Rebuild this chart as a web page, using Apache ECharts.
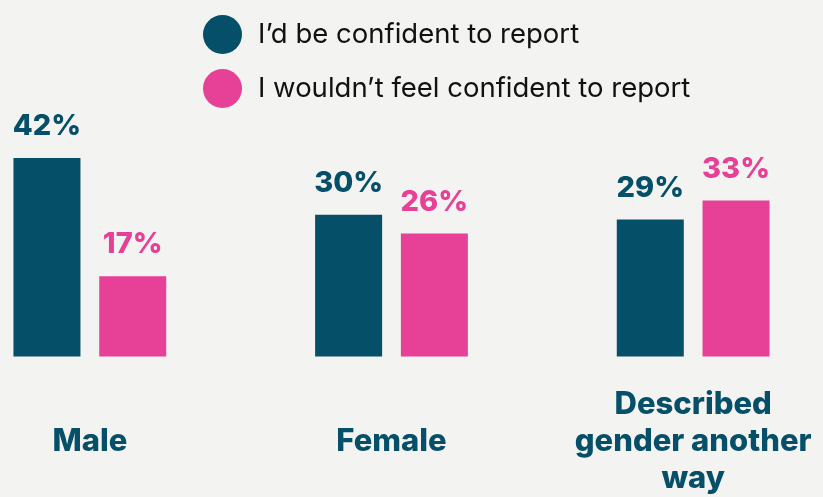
<!DOCTYPE html>
<html>
<head>
<meta charset="utf-8">
<script src="https://cdn.jsdelivr.net/npm/echarts@6/dist/echarts.min.js"></script>
<style>
  html, body { margin: 0; padding: 0; background: #f3f3f1; overflow: hidden; width: 823px; height: 497px; }
  /* The plot is wider than the window so the three groups sit at a wider pitch */
  #chart { width: 905px; height: 497px; margin-left: -61px; }
</style>
</head>
<body>
<div id="chart"></div>
<script>
// Confidence to report, by gender
const categories = ['Male', 'Female', 'Described\ngender another\nway'];
const seriesNames = ["I\u2019d be confident to report", "I wouldn\u2019t feel confident to report"];
const confidentValues = [42, 30, 29];
const notConfidentValues = [17, 26, 33];

const TEAL = '#064f69';
const PINK = '#e64197';
const FONT = 'Inter, "Open Sans", sans-serif';

const chart = echarts.init(document.getElementById('chart'));

function barSeries(name, data, color) {
  return {
    name: name,
    type: 'bar',
    data: data,
    barWidth: 67,
    barGap: '28%',
    itemStyle: { color: color },
    label: {
      show: true,
      position: 'top',
      distance: 17,
      formatter: '{c}%',
      color: color,
      fontFamily: FONT,
      fontWeight: 800,
      fontSize: 29
    }
  };
}

chart.setOption({
  backgroundColor: '#f3f3f1',
  animation: false,
  legend: {
    orient: 'vertical',
    left: 259,
    top: 10,
    icon: 'circle',
    itemWidth: 39,
    itemHeight: 42,
    itemGap: 15,
    textStyle: {
      fontFamily: FONT,
      fontSize: 27.5,
      color: '#111111',
      padding: [0, 0, 0, 11]
    },
    data: seriesNames
  },
  grid: {
    left: 0,
    right: 0,
    top: 158,
    bottom: 139,
    containLabel: false
  },
  xAxis: {
    type: 'category',
    data: categories,
    axisLine: { show: false },
    axisTick: { show: false },
    axisLabel: {
      margin: 85,
      verticalAlign: 'middle',
      color: TEAL,
      fontFamily: FONT,
      fontWeight: 800,
      fontSize: 31,
      lineHeight: 37,
      interval: 0
    }
  },
  yAxis: {
    type: 'value',
    min: 0,
    max: 42,
    show: false,
    splitLine: { show: false }
  },
  series: [
    barSeries(seriesNames[0], confidentValues, TEAL),
    barSeries(seriesNames[1], notConfidentValues, PINK)
  ]
});
</script>
</body>
</html>
